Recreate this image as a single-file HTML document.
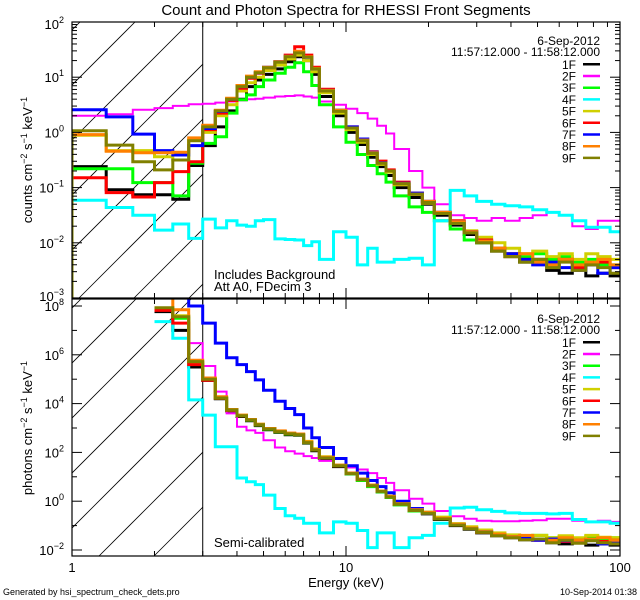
<!DOCTYPE html>
<html><head><meta charset="utf-8"><style>
html,body{margin:0;padding:0;background:#fff;}
svg{display:block;font-family:"Liberation Sans",sans-serif;}
</style></head><body>
<svg id="chart" width="640" height="600" viewBox="0 0 640 600">
<defs>
<clipPath id="clipTop"><rect x="72" y="22" width="548" height="276"/></clipPath>
<clipPath id="clipBot"><rect x="72" y="299" width="548" height="257"/></clipPath>
<clipPath id="hatchTop"><rect x="72" y="22" width="130.7" height="276"/></clipPath>
<clipPath id="hatchBot"><rect x="72" y="299" width="130.7" height="257"/></clipPath>
</defs>
<text x="346" y="15" text-anchor="middle" font-size="15">Count and Photon Spectra for RHESSI Front Segments</text>
<g id="layer"></g>
<text x="346" y="587" text-anchor="middle" font-size="13">Energy (keV)</text>
<text x="3" y="595" font-size="9">Generated by hsi_spectrum_check_dets.pro</text>
<text x="637" y="595" text-anchor="end" font-size="9">10-Sep-2014 01:38</text>
<text transform="translate(32,160) rotate(-90)" text-anchor="middle" font-size="13">counts cm<tspan dy="-5" font-size="9">−2</tspan><tspan dy="5"> s</tspan><tspan dy="-5" font-size="9">−1</tspan><tspan dy="5"> keV</tspan><tspan dy="-5" font-size="9">−1</tspan></text>
<text transform="translate(32,428) rotate(-90)" text-anchor="middle" font-size="13">photons cm<tspan dy="-5" font-size="9">−2</tspan><tspan dy="5"> s</tspan><tspan dy="-5" font-size="9">−1</tspan><tspan dy="5"> keV</tspan><tspan dy="-5" font-size="9">−1</tspan></text>
<text x="214" y="279" font-size="13">Includes Background</text>
<text x="214" y="291" font-size="13">Att A0, FDecim 3</text>
<text x="214" y="547" font-size="13">Semi-calibrated</text>
</svg>
<script>
const edges = [1,1.333,1.667,2,2.333,2.667,3,3.333,3.667,4,4.333,4.667,5,5.5,6,6.5,7,7.5,8,9,10,11,12,13,14,15,17,19,21,24,27,30,34,38,43,48,54,60,67,75,83,92,100];
const detectors = ["1F","2F","3F","4F","5F","6F","7F","8F","9F"];
const colors = ["#000000","#ff00ff","#00ff00","#00ffff","#d0d000","#ff0000","#0000ff","#ff8000","#808000"];
const topTicks = [2,1,0,-1,-2,-3];
const botTicks = [8,6,4,2,0,-2];
// log10 counts (top panel)
const c1 = [-0.62,-1.04,-1.13,-1.13,-1.21,-0.6,-0.24,0.1,0.39,0.6,0.83,0.95,1.05,1.15,1.28,1.37,1.3,1.05,0.65,0.3,0.0,-0.22,-0.45,-0.62,-0.78,-1.0,-1.18,-1.3,-1.5,-1.68,-1.85,-2.0,-2.15,-2.25,-2.35,-2.3,-2.5,-2.55,-2.45,-2.6,-2.55,-2.6];
const c2 = [0.30,0.33,0.41,0.44,0.48,0.51,0.52,0.54,0.56,0.58,0.6,0.61,0.63,0.65,0.66,0.67,0.65,0.63,0.56,0.5,0.43,0.35,0.25,0.12,-0.02,-0.3,-0.7,-1.0,-1.3,-1.5,-1.55,-1.6,-1.55,-1.6,-1.55,-1.5,-1.45,-1.5,-1.7,-1.75,-1.6,-1.6];
const c3 = [-0.66,-0.66,-0.91,-0.91,-1.15,-0.56,-0.2,-0.08,0.35,0.59,0.68,0.83,0.95,1.07,1.18,1.26,1.1,0.85,0.5,0.1,-0.18,-0.4,-0.6,-0.75,-0.9,-1.15,-1.35,-1.45,-1.6,-1.75,-1.95,-2.0,-2.1,-2.2,-2.25,-2.2,-2.3,-2.25,-2.35,-2.3,-2.4,-2.4];
const c4 = [-1.23,-1.36,-1.5,-1.77,-1.66,-1.92,-1.57,-1.73,-1.6,-1.68,-1.7,-1.6,-1.58,-1.93,-1.94,-1.95,-2.05,-1.98,-2.3,-1.8,-1.9,-2.4,-2.1,-2.35,-2.35,-2.3,-2.28,-2.4,-1.6,-1.05,-1.15,-1.25,-1.3,-1.33,-1.35,-1.4,-1.45,-1.5,-1.6,-1.72,-1.72,-1.8];
const c5 = [-0.05,-0.33,-0.33,-0.44,-0.5,-0.14,0.0,0.3,0.5,0.75,0.9,1.0,1.12,1.22,1.33,1.4,1.3,1.1,0.72,0.35,0.05,-0.18,-0.4,-0.58,-0.72,-0.95,-1.12,-1.28,-1.45,-1.62,-1.78,-1.9,-2.0,-2.1,-2.2,-2.15,-2.25,-2.2,-2.3,-2.2,-2.25,-2.3];
const c6 = [-0.82,-1.09,-1.17,-0.91,-0.71,-0.53,0.05,0.35,0.58,0.8,0.98,1.07,1.17,1.28,1.4,1.55,1.4,1.18,0.78,0.4,0.1,-0.12,-0.35,-0.52,-0.68,-0.9,-1.1,-1.25,-1.45,-1.6,-1.8,-1.95,-2.1,-2.2,-2.3,-2.35,-2.4,-2.3,-2.45,-2.4,-2.35,-2.45];
const c7 = [0.41,0.28,-0.03,-0.33,-0.41,-0.24,0.07,0.38,0.6,0.83,1.0,1.08,1.18,1.28,1.38,1.45,1.36,1.15,0.76,0.4,0.1,-0.12,-0.36,-0.55,-0.7,-0.92,-1.1,-1.25,-1.45,-1.62,-1.8,-1.97,-2.12,-2.2,-2.3,-2.4,-2.35,-2.45,-2.5,-2.4,-2.55,-2.45];
const c8 = [-0.04,-0.34,-0.37,-0.37,-0.36,-0.1,0.13,0.4,0.62,0.85,1.02,1.1,1.18,1.28,1.38,1.47,1.37,1.16,0.76,0.4,0.08,-0.14,-0.37,-0.56,-0.7,-0.93,-1.12,-1.25,-1.45,-1.62,-1.8,-1.97,-2.1,-2.25,-2.2,-2.35,-2.4,-2.3,-2.4,-2.35,-2.3,-2.4];
const c9 = [0.03,-0.23,-0.53,-0.68,-0.5,-0.15,0.1,0.39,0.6,0.83,1.0,1.08,1.17,1.27,1.37,1.44,1.36,1.15,0.75,0.38,0.08,-0.15,-0.38,-0.56,-0.7,-0.93,-1.12,-1.27,-1.47,-1.65,-1.82,-2.0,-2.15,-2.25,-2.35,-2.3,-2.45,-2.35,-2.5,-2.4,-2.45,-2.55];
// log10 photons (bottom panel)
const p1 = [null,null,null,7.77,7.0,5.5,4.95,4.2,3.7,3.47,3.3,3.1,2.93,2.82,2.72,2.7,2.38,2.07,1.75,1.42,1.12,0.87,0.62,0.38,0.16,-0.14,-0.4,-0.52,-0.75,-1.0,-1.15,-1.3,-1.42,-1.5,-1.58,-1.55,-1.7,-1.75,-1.65,-1.8,-1.75,-1.8];
const p2 = [null,null,null,7.85,7.5,6.48,5.54,4.49,3.6,3.05,2.9,2.8,2.5,2.2,2.05,1.95,1.85,1.77,1.65,1.5,1.38,1.3,1.15,0.95,0.75,0.45,0.1,-0.1,-0.4,-0.62,-0.72,-0.8,-0.82,-0.82,-0.8,-0.78,-0.72,-0.72,-0.8,-0.85,-0.8,-0.85];
const p3 = [null,null,null,7.85,7.5,5.65,5.0,4.22,3.72,3.5,3.32,3.12,2.95,2.84,2.75,2.72,2.4,2.1,1.78,1.45,1.12,0.85,0.6,0.38,0.15,-0.15,-0.4,-0.45,-0.7,-0.95,-1.1,-1.2,-1.35,-1.4,-1.5,-1.4,-1.5,-1.45,-1.55,-1.45,-1.55,-1.5];
const p4 = [null,null,null,7.36,6.68,4.15,3.53,2.23,2.23,0.95,0.8,0.68,0.25,-0.3,-0.6,-0.7,-0.9,-0.9,-1.3,-0.85,-0.9,-1.2,-1.9,-1.3,-1.3,-1.9,-1.5,-1.4,-0.9,-0.28,-0.25,-0.35,-0.42,-0.48,-0.5,-0.5,-0.52,-0.5,-0.75,-0.85,-0.85,-0.9];
const p5 = [null,null,null,7.88,7.6,5.68,5.02,4.25,3.75,3.52,3.35,3.15,2.98,2.87,2.78,2.75,2.45,2.15,1.82,1.48,1.15,0.9,0.65,0.42,0.2,-0.1,-0.33,-0.45,-0.65,-0.92,-1.05,-1.18,-1.3,-1.38,-1.45,-1.4,-1.5,-1.42,-1.5,-1.4,-1.48,-1.5];
const p6 = [null,null,null,7.82,7.3,5.6,4.96,4.22,3.73,3.5,3.33,3.13,2.96,2.86,2.78,2.74,2.42,2.12,1.78,1.45,1.15,0.9,0.65,0.42,0.18,-0.12,-0.36,-0.48,-0.72,-0.95,-1.12,-1.28,-1.4,-1.47,-1.55,-1.6,-1.58,-1.65,-1.6,-1.55,-1.65,-1.6];
const p7 = [null,null,null,8.6,8.6,8.0,7.3,6.48,5.88,5.6,5.31,4.97,4.55,4.1,3.8,3.55,3.0,2.6,2.2,1.75,1.45,1.15,0.85,0.6,0.35,0.0,-0.3,-0.5,-0.72,-0.97,-1.12,-1.25,-1.38,-1.45,-1.52,-1.6,-1.55,-1.62,-1.7,-1.6,-1.75,-1.65];
const p8 = [null,null,null,8.4,7.85,5.78,5.05,4.28,3.76,3.53,3.35,3.15,2.98,2.88,2.79,2.75,2.43,2.12,1.8,1.47,1.15,0.9,0.66,0.42,0.2,-0.1,-0.35,-0.45,-0.7,-0.95,-1.1,-1.25,-1.35,-1.45,-1.4,-1.55,-1.6,-1.5,-1.6,-1.55,-1.5,-1.6];
const p9 = [null,null,null,7.93,7.56,5.72,5.0,4.23,3.74,3.5,3.33,3.13,2.96,2.85,2.76,2.72,2.4,2.1,1.77,1.45,1.13,0.88,0.63,0.4,0.17,-0.12,-0.38,-0.5,-0.73,-0.98,-1.13,-1.28,-1.42,-1.5,-1.58,-1.55,-1.7,-1.6,-1.72,-1.62,-1.7,-1.75];
const countSeries = [c1,c2,c3,c4,c5,c6,c7,c8,c9];
const photonSeries = [p1,p2,p3,p4,p5,p6,p7,p8,p9];

const NS = "http://www.w3.org/2000/svg";
const layer = document.getElementById("layer");
const X0 = 72, X1 = 620;
const xp = e => X0 + (X1 - X0) / 2 * Math.log10(e);
const panels = [
  {top:22, bot:298, vmax:2, pxd:55.2, clip:"clipTop", hclip:"hatchTop", name:"count"},
  {top:299, bot:556, vmax:8, pxd:24.4, y0:306, clip:"clipBot", hclip:"hatchBot", name:"photon"}
];
function ypOf(p){ const base = p.y0 !== undefined ? p.y0 : p.top; return v => base + (p.vmax - v) * p.pxd; }

function mk(tag, attrs, name, parent){
  const el = document.createElementNS(NS, tag);
  for (const k in attrs) el.setAttribute(k, attrs[k]);
  
  
  (parent || layer).appendChild(el);
  return el;
}

panels.forEach((p, pi) => {
  const yp = ypOf(p);
  const hg = mk("g", {"clip-path":"url(#"+p.hclip+")"}, p.name+"-hatch-region");
  const cStart = pi === 0 ? 102 : 380;
  for (let c = cStart; c < 800; c += 55) {
    mk("line", {x1: c - p.bot, y1: p.bot, x2: c - p.top, y2: p.top, stroke:"#000", "stroke-width":0.8}, "hatch-line", hg);
  }
  mk("line", {x1: xp(3), y1: p.top, x2: xp(3), y2: p.bot, stroke:"#000", "stroke-width":1}, p.name+"-threshold-line");
  const sg = mk("g", {"clip-path":"url(#"+p.clip+")"}, p.name+"-series-group");
  const series = pi === 0 ? countSeries : photonSeries;
  series.forEach((vals, si) => {
    let d = "";
    let started = false;
    for (let i = 0; i < vals.length && i + 1 < edges.length; i++) {
      const v = vals[i];
      if (v === null || v === undefined) continue;
      const y = yp(v).toFixed(1);
      const xa = xp(edges[i]).toFixed(1), xb = xp(edges[i+1]).toFixed(1);
      if (!started) {
        if (si === 8 && pi === 0) d += "M" + xa + "," + p.bot + " L" + xa + "," + y;
        else d += "M" + xa + "," + y;
        started = true;
      } else d += " L" + xa + "," + y;
      d += " L" + xb + "," + y;
    }
    mk("path", {d: d, fill:"none", stroke: colors[si], "stroke-width": si === 1 ? 2 : 3, "stroke-linejoin":"miter"}, p.name+"-series-"+detectors[si].toLowerCase(), sg);
  });
  mk("rect", {x:X0, y:p.top, width:X1-X0, height:p.bot-p.top, fill:"none", stroke:"#000", "stroke-width":1.2}, p.name+"-plot-frame");
  for (let dec = 1; dec <= 10; dec *= 10) {
    for (let m = 1; m <= 9; m++) {
      const e = dec * m; if (e > 100) break;
      const x = xp(e), L = m === 1 ? 10 : 5;
      mk("line", {x1:x, y1:p.bot, x2:x, y2:p.bot-L, stroke:"#000"}, "x-tick", null);
      mk("line", {x1:x, y1:p.top, x2:x, y2:p.top+L, stroke:"#000"}, "x-tick", null);
    }
  }
  const ticks = pi === 0 ? topTicks : botTicks;
  if (pi === 0) {
    for (let dcd = -3; dcd < 2; dcd++) for (let m = 1; m <= 9; m++) {
      const y = yp(dcd + Math.log10(m)), L = m === 1 ? 10 : 5;
      mk("line", {x1:X0, y1:y, x2:X0+L, y2:y, stroke:"#000"}, "y-tick", null);
      mk("line", {x1:X1, y1:y, x2:X1-L, y2:y, stroke:"#000"}, "y-tick", null);
    }
  } else {
    for (let dcd = -2; dcd <= 8; dcd++) {
      const y = yp(dcd), L = dcd % 2 === 0 ? 10 : 5;
      mk("line", {x1:X0, y1:y, x2:X0+L, y2:y, stroke:"#000"}, "y-tick", null);
      mk("line", {x1:X1, y1:y, x2:X1-L, y2:y, stroke:"#000"}, "y-tick", null);
    }
  }
  ticks.forEach(t => {
    const y = Math.min(Math.max(yp(t), p.top + 2), p.bot - 2);
    const tx = mk("text", {x:64, y:y+5, "text-anchor":"end", "font-size":13}, p.name+"-y-tick-label", null);
    const b = document.createElementNS(NS, "tspan"); b.textContent = "10"; tx.appendChild(b);
    const s = document.createElementNS(NS, "tspan"); s.setAttribute("dy", "-6"); s.setAttribute("font-size", "9"); s.textContent = String(t).replace("-", "−"); tx.appendChild(s);
  });
  const ly = pi === 0 ? 41 : 319;
  mk("text", {x:600, y:ly+4, "text-anchor":"end", "font-size":12}, p.name+"-legend-date", null).textContent = "6-Sep-2012";
  mk("text", {x:600, y:ly+15, "text-anchor":"end", "font-size":12}, p.name+"-legend-time-range", null).textContent = "11:57:12.000 - 11:58:12.000";
  detectors.forEach((dname, i) => {
    const y = ly + 23.3 + i * 11.7;
    const g = mk("g", {}, p.name+"-legend-entry-"+dname.toLowerCase(), null);
    mk("text", {x:576, y:y+4.5, "text-anchor":"end", "font-size":12}, "legend-label", g).textContent = dname;
    mk("line", {x1:583, y1:y, x2:600, y2:y, stroke:colors[i], "stroke-width":2.5}, "legend-swatch", g);
  });
});
[1,10,100].forEach(e => {
  mk("text", {x:xp(e), y:572, "text-anchor":"middle", "font-size":13}, "x-tick-label", null).textContent = String(e);
});
</script>
</body></html>
